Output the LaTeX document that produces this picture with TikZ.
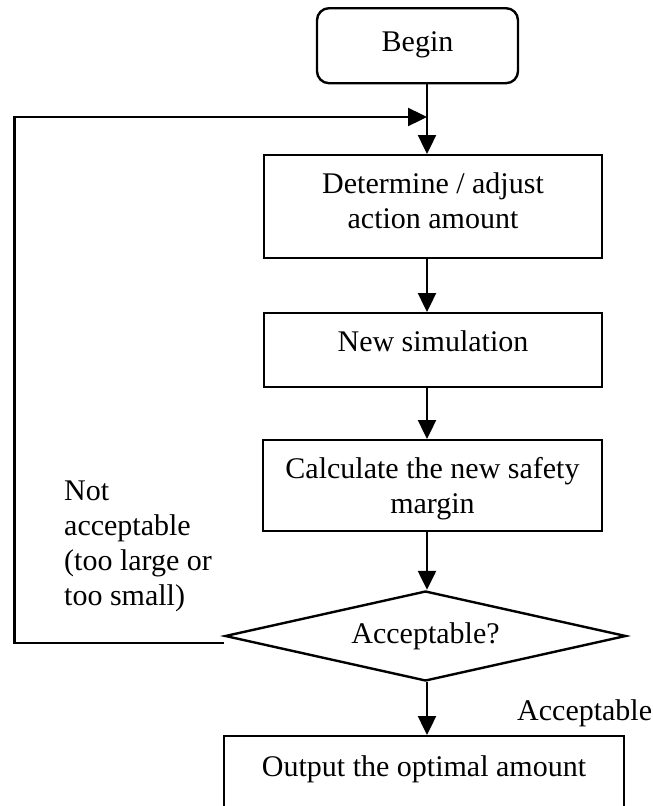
\documentclass[tikz,border=0pt]{standalone}
\usepackage{fontspec}
\setmainfont{Liberation Serif}
\usetikzlibrary{shapes.geometric,arrows.meta}

\begin{document}
\begin{tikzpicture}[x=1pt,y=-1pt,
  every node/.style={font=\fontsize{30}{35}\selectfont},
  boxnode/.style={draw, line width=2.4pt, inner xsep=0pt, inner ysep=0pt,
    anchor=north, align=center},
  flow/.style={line width=2.4pt, -{Triangle[length=19pt,width=18pt]}},
]
\useasboundingbox (0,0) rectangle (653,806);
\clip (0,0) rectangle (653,806);

% main column of steps
\node[boxnode, rounded corners=12pt, minimum width=201pt,
      text height=43pt, text depth=32pt] (begin) at (417.5,7) {Begin};
\node[boxnode, minimum width=338pt, text height=73pt, text depth=30pt]
      (adjust) at (433,154) {Determine / adjust\\action amount};
\node[boxnode, minimum width=338pt, text height=38pt, text depth=36pt]
      (sim) at (433,312) {New simulation};
\node[boxnode, minimum width=339pt, text height=73pt, text depth=18pt]
      (calc) at (432.5,439) {Calculate the new safety\\margin};
\node[draw, diamond, shape aspect=4.45, minimum width=401pt, minimum height=90pt,
      inner sep=0pt, line width=2.4pt] (acc) at (425.5,636) {Acceptable?};
\node[boxnode, minimum width=400pt, text height=40pt, text depth=60pt]
      (out) at (424,735) {Output the optimal amount};

% branch labels
\node[anchor=base west, align=left, inner sep=0pt] (notacc) at (64,605)
      {Not\\acceptable\\(too large or\\too small)};
\node[anchor=base west, inner sep=0pt] (acclbl) at (517,720) {Acceptable};

% connectors
\coordinate (spine) at (427,0);
\coordinate (join) at (427,117);
\coordinate (lc) at (14.5,643);
\draw[flow] (begin.south -| spine) -- (adjust.north -| spine);
\draw[flow] (adjust.south -| spine) -- (sim.north -| spine);
\draw[flow] (sim.south -| spine) -- (calc.north -| spine);
\draw[flow] (calc.south -| spine) -- (acc.north -| spine);
\draw[flow] (acc.south -| spine) -- (out.north -| spine);
\draw[flow] ([yshift=-7pt]acc.west) -- (lc) |- (join);
\end{tikzpicture}
\end{document}
